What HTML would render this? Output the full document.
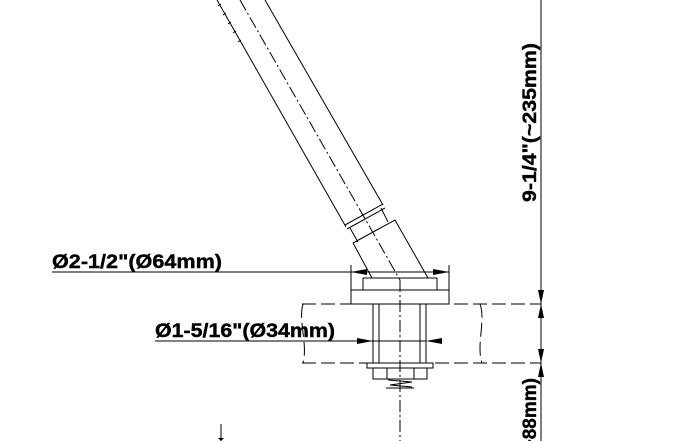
<!DOCTYPE html>
<html><head><meta charset="utf-8"><style>html,body{margin:0;padding:0;background:#fff;width:700px;height:441px;overflow:hidden}svg{display:block}</style></head>
<body>
<svg width="700" height="441" viewBox="0 0 700 441" xmlns="http://www.w3.org/2000/svg" overflow="hidden">
<g stroke="#000" stroke-width="1" fill="none">
<line x1="217" y1="0" x2="346" y2="227"/>
<line x1="265" y1="0" x2="383" y2="205"/>
<line x1="345" y1="225" x2="383" y2="204"/>
<line x1="347" y1="229" x2="385" y2="208"/>
<line x1="350" y1="228" x2="358" y2="242"/>
<line x1="381" y1="208" x2="388" y2="222"/>
<path d="M353,243 L395,220 L428,278 M353,243 L372,278"/>
<path d="M221,4 l-3,2 M226,13 l-3,2 M231,22 l-3,2 M236,31 l-3,2 M241,40 l-3,2" />
<line x1="240" y1="0" x2="400" y2="280" stroke-dasharray="12,3,2,3"/>
<rect x="363" y="278" width="74" height="12"/>
<rect x="351" y="290" width="98" height="14"/>
<line x1="351" y1="265" x2="351" y2="290"/>
<line x1="449" y1="265" x2="449" y2="290"/>
<line x1="52" y1="272" x2="449" y2="272"/>
<g stroke-dasharray="14,5">
<line x1="302" y1="304" x2="541" y2="304"/>
<line x1="302" y1="363" x2="541" y2="363"/>
<path d="M303,304 C298,320 308,345 303,363"/>
<path d="M480,304 C486,320 476,345 482,363"/>
</g>
<line x1="373" y1="304" x2="373" y2="363"/>
<line x1="379" y1="304" x2="379" y2="363"/>
<line x1="420" y1="304" x2="420" y2="363"/>
<line x1="426" y1="304" x2="426" y2="363"/>
<line x1="155" y1="341" x2="426" y2="341"/>
<rect x="367" y="363" width="66" height="5"/>
<rect x="373" y="368" width="54" height="11"/>
<line x1="387" y1="368" x2="387" y2="379"/>
<line x1="414" y1="368" x2="414" y2="379"/>
<path d="M388,380 L412,382 L390,385 L412,387 M386,388 L414,388"/>
<line x1="400" y1="280" x2="400" y2="441" stroke-dasharray="12,3,2,3"/>
<line x1="541" y1="0" x2="541" y2="441"/>
<line x1="221" y1="424" x2="221" y2="441"/>
</g>
<g fill="#000">
<path d="M351,272 l16,-3 v6 z"/>
<path d="M449,272 l-16,-3 v6 z"/>
<path d="M373,341 l-16,-3 v6 z"/>
<path d="M426,341 l16,-3 v6 z"/>
<path d="M541,304 l-3,-14 h6 z"/>
<path d="M541,304 l-3,14 h6 z"/>
<path d="M541,363 l-3,-14 h6 z"/>
<path d="M541,363 l-3,14 h6 z"/>
<path d="M221,441 l-3,-3 h6 z"/>
</g>
<g font-family="Liberation Sans, sans-serif" font-weight="bold" font-size="19" fill="#000" stroke="#000" stroke-width="0.4">
<text x="52" y="268" textLength="170" lengthAdjust="spacingAndGlyphs">Ø2-1/2"(Ø64mm)</text>
<text x="155" y="337" textLength="180" lengthAdjust="spacingAndGlyphs">Ø1-5/16"(Ø34mm)</text>
<text transform="translate(536,202) rotate(-90)" textLength="159" lengthAdjust="spacingAndGlyphs">9-1/4"(~235mm)</text>
<text transform="translate(536,378) rotate(-90)" text-anchor="end">3-7/16"(~88mm)</text>
</g>
</svg>
</body></html>
